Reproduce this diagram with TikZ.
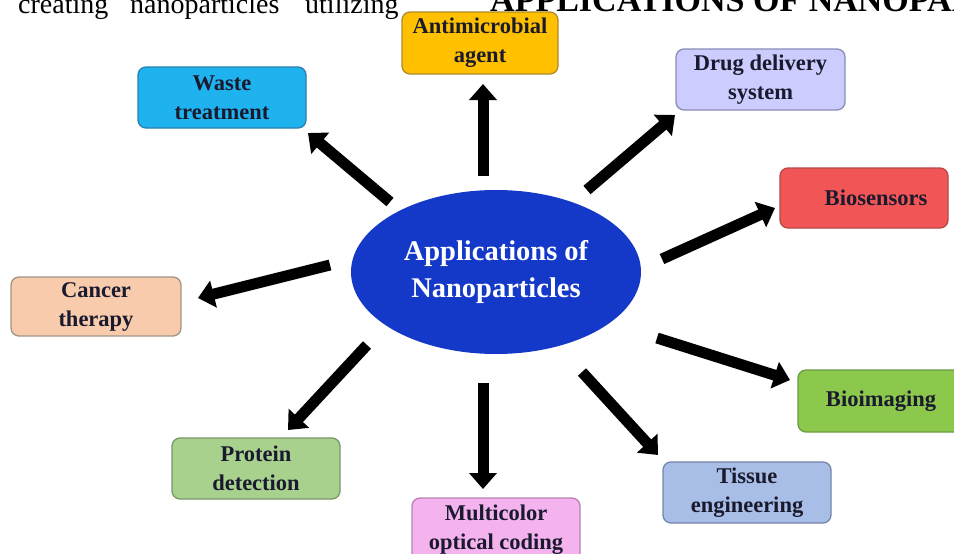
\documentclass[tikz,border=0pt]{standalone}
\usepackage{fontspec}
\setmainfont{Liberation Serif}
\usetikzlibrary{arrows.meta,shapes.geometric}
\definecolor{txt}{HTML}{1A1A2E}
\definecolor{fAnti}{HTML}{FFC000}\definecolor{bAnti}{HTML}{B08A30}
\definecolor{fWaste}{HTML}{1EB2EE}\definecolor{bWaste}{HTML}{2A80B0}
\definecolor{fDrug}{HTML}{CCCCFF}\definecolor{bDrug}{HTML}{8C8CB8}
\definecolor{fSens}{HTML}{F25555}\definecolor{bSens}{HTML}{B84848}
\definecolor{fCanc}{HTML}{F8CBAD}\definecolor{bCanc}{HTML}{A09488}
\definecolor{fImg}{HTML}{8CC84C}\definecolor{bImg}{HTML}{6A9A44}
\definecolor{fTiss}{HTML}{A8BEE6}\definecolor{bTiss}{HTML}{7486A8}
\definecolor{fMulti}{HTML}{F4B2EE}\definecolor{bMulti}{HTML}{B484B0}
\definecolor{fProt}{HTML}{A9D18E}\definecolor{bProt}{HTML}{789868}
\definecolor{fEll}{HTML}{1438C8}
\begin{document}
\begin{tikzpicture}[x=1pt,y=-1pt,
  box/.style={rectangle, rounded corners=8pt, line width=1.3pt,
    minimum width=168pt, minimum height=61pt, align=center, inner sep=2pt,
    text=txt, font=\fontsize{22.5}{29}\selectfont\bfseries},
  arr/.style={line width=11pt, -{Triangle[length=16pt,width=27pt]}},
  toptext/.style={anchor=base west, inner sep=0pt, font=\fontsize{28}{28}\selectfont}]
\useasboundingbox (0,0) rectangle (954,554);
\clip (0,0) rectangle (954,554);
\fill[white] (0,0) rectangle (954,554);
% cut top line of the page
\node[toptext] (t1) at (18,13) {creating};
\node[toptext] (t2) at (130,13) {nanoparticles};
\node[toptext] (t3) at (305,13) {utilizing};
\node[toptext, font=\fontsize{34}{34}\selectfont\bfseries] (t4) at (490,11) {APPLICATIONS OF NANOPARTICLES};
% centre
\node[ellipse, fill=fEll, minimum width=290pt, minimum height=164pt, inner sep=0pt,
  align=center, text=white, font=\fontsize{28.5}{37}\selectfont\bfseries] (c) at (496,272)
  {Applications of\\Nanoparticles};
% boxes
\node[box, fill=fAnti, draw=bAnti, minimum width=156pt, minimum height=62pt] (anti) at (480,43) {Antimicrobial\\agent};
\node[box, fill=fWaste, draw=bWaste] (waste) at (222,97.5) {Waste\\treatment};
\node[box, fill=fDrug, draw=bDrug, minimum width=169pt] (drug) at (760.5,79.5) {Drug delivery\\system};
\node[box, fill=fSens, draw=bSens, minimum height=60pt] (sens) at (864,198) {\hspace*{24pt}Biosensors};
\node[box, fill=fCanc, draw=bCanc, minimum width=170pt, minimum height=59pt] (canc) at (96,306.5) {Cancer\\therapy};
\node[box, fill=fImg, draw=bImg, minimum width=166pt, minimum height=62pt] (img) at (881,401) {Bioimaging};
\node[box, fill=fTiss, draw=bTiss] (tiss) at (747,492.5) {Tissue\\engineering};
\node[box, fill=fMulti, draw=bMulti, minimum height=64pt] (multi) at (496,530) {Multicolor\\optical coding};
\node[box, fill=fProt, draw=bProt] (prot) at (256,468.5) {Protein\\detection};
% arrow end points
\coordinate (a1) at (483,176); \coordinate (a2) at (483,84);
\coordinate (w1) at (390,202); \coordinate (w2) at (308,133);
\coordinate (d1) at (587,190); \coordinate (d2) at (675,115);
\coordinate (s1) at (662,259); \coordinate (s2) at (775,208);
\coordinate (k1) at (330,265); \coordinate (k2) at (198,298);
\coordinate (i1) at (657,338); \coordinate (i2) at (790,380);
\coordinate (e1) at (582,372); \coordinate (e2) at (658,455);
\coordinate (m1) at (483,383); \coordinate (m2) at (483,489);
\coordinate (p1) at (367,345); \coordinate (p2) at (288,430);
\foreach \s in {a,w,d,s,k,i,e,m,p}
  \draw[arr] (\s1) -- (\s2);
\end{tikzpicture}
\end{document}
